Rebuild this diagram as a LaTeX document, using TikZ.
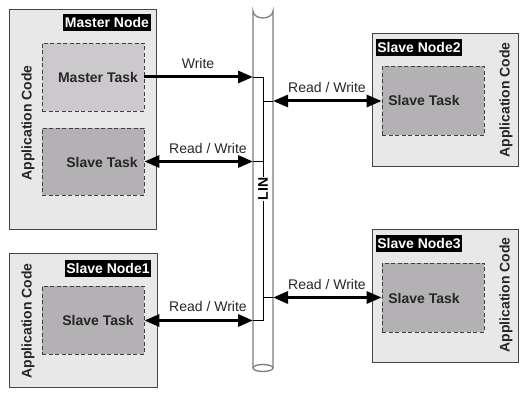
\documentclass[tikz,border=0pt]{standalone}
\usepackage{fontspec}
\setmainfont{Liberation Sans}
\usetikzlibrary{arrows.meta}
\definecolor{boxfill}{HTML}{E8E8E8}
\definecolor{boxline}{HTML}{454545}
\definecolor{mtaskfill}{HTML}{CBC9CB}
\definecolor{staskfill}{HTML}{B3B1B3}
\definecolor{busline}{HTML}{7C7C7C}
\tikzset{
  nodebox/.style={draw=boxline, fill=boxfill, line width=1pt},
  taskbox/.style={draw=black!75, dashed, dash pattern=on 4pt off 2.5pt, line width=0.8pt, inner sep=0pt},
  tasktext/.style={font=\fontsize{14}{16}\selectfont\bfseries, text=black!85, inner sep=0pt},
  tag/.style={fill=black, text=white, font=\fontsize{14}{16}\selectfont\bfseries, inner sep=1.5pt, minimum height=17pt},
  appcode/.style={rotate=90, font=\fontsize{14}{16}\selectfont\bfseries, text=black!85, inner sep=0pt},
  rwtext/.style={font=\fontsize{14}{16}\selectfont, text=black!85, inner sep=0pt},
  bigarrow/.style={line width=3pt, -{Triangle[length=15pt,width=12pt]}},
  bigdarrow/.style={line width=3pt, {Triangle[length=15pt,width=12pt]}-{Triangle[length=15pt,width=12pt]}},
  wire/.style={line width=0.9pt, black}
}
\begin{document}
\begin{tikzpicture}[x=1pt,y=-1pt]
\useasboundingbox (0,0) rectangle (523,403);
% ---- bus cylinder ----
\draw[busline, line width=1.3pt] (253,368) -- (253,11) arc[start angle=180, end angle=0, x radius=10, y radius=7] -- (273,368);
\draw[busline, line width=1.3pt, fill=white] (263,368) ellipse[x radius=10, y radius=3.5];
% ---- node boxes ----
\node[nodebox, minimum width=147pt, minimum height=220pt, inner sep=0pt] (master) at (82.5,120) {};
\node[nodebox, minimum width=148pt, minimum height=134pt, inner sep=0pt] (slave1) at (83,321) {};
\node[nodebox, minimum width=146pt, minimum height=133pt, inner sep=0pt] (slave2) at (445,100.5) {};
\node[nodebox, minimum width=146pt, minimum height=133pt, inner sep=0pt] (slave3) at (445,296.5) {};
% ---- tags ----
\node[tag] (mtag) at (107,22.5) {Master Node};
\node[tag] (s1tag) at (108,268.5) {Slave Node1};
\node[tag] (s2tag) at (419,47.5) {Slave Node2};
\node[tag] (s3tag) at (419,244) {Slave Node3};
% ---- application code ----
\node[appcode] (mapp) at (28,123) {Application Code};
\node[appcode] (s1app) at (28,321) {Application Code};
\node[appcode] (s2app) at (506,100) {Application Code};
\node[appcode] (s3app) at (506,295) {Application Code};
% ---- tasks ----
\node[taskbox, fill=mtaskfill, minimum width=102pt, minimum height=68pt] (mtask) at (93,77) {};
\node[taskbox, fill=staskfill, minimum width=102pt, minimum height=67pt] (mstask) at (93,161.5) {};
\node[taskbox, fill=staskfill, minimum width=102pt, minimum height=68pt] (s1task) at (93,320.5) {};
\node[taskbox, fill=staskfill, minimum width=102pt, minimum height=69pt] (s2task) at (433,101) {};
\node[taskbox, fill=staskfill, minimum width=102pt, minimum height=69pt] (s3task) at (433,297.5) {};
\node[tasktext] (mtaskt) at (98,77) {Master Task};
\node[tasktext] (mstaskt) at (102,162) {Slave Task};
\node[tasktext] (s1taskt) at (98,320) {Slave Task};
\node[tasktext] (s2taskt) at (424,100) {Slave Task};
\node[tasktext] (s3taskt) at (424,298) {Slave Task};
% ---- bus internal wiring ----
\coordinate (bm) at (253,77);
\coordinate (bms) at (253,161.5);
\coordinate (bs1) at (253,320.5);
\coordinate (bs2) at (273,101);
\coordinate (bs3) at (273,297.5);
\coordinate (vtop) at (263,77);
\coordinate (vbot) at (263,320.5);
\draw[wire] (bm) -- (vtop) -- (vbot) -- (bs1);
\draw[wire] (bms) -- (bms -| vtop);
\draw[wire] (bs2 -| vtop) -- (bs2);
\draw[wire] (bs3 -| vtop) -- (bs3);
\node[rotate=90, fill=white, font=\fontsize{14}{16}\selectfont\bfseries, inner sep=1pt] (lin) at (263,189) {LIN};
% ---- arrows ----
\draw[bigarrow] (mtask.east) -- (bm);
\draw[bigdarrow] (mstask.east) -- (bms);
\draw[bigdarrow] (s1task.east) -- (bs1);
\draw[bigdarrow] (bs2) -- (s2task.west);
\draw[bigdarrow] (bs3) -- (s3task.west);
% ---- arrow labels ----
\node[rwtext] (lw) at (198,63) {Write};
\node[rwtext] (lms) at (208,148) {Read / Write};
\node[rwtext] (ls1) at (208,306) {Read / Write};
\node[rwtext] (ls2) at (327,87) {Read / Write};
\node[rwtext] (ls3) at (327,284) {Read / Write};
\end{tikzpicture}
\end{document}
